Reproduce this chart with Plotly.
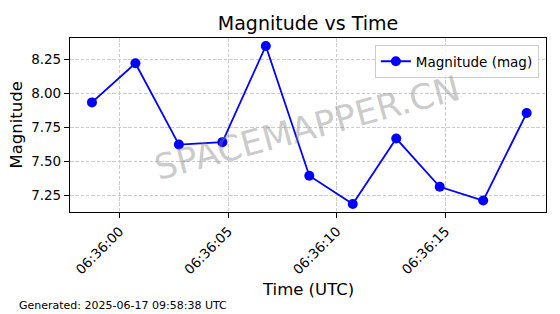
import plotly.graph_objects as go

times = ["2025-06-17 06:35:58.73", "2025-06-17 06:36:00.73", "2025-06-17 06:36:02.73",
         "2025-06-17 06:36:04.73", "2025-06-17 06:36:06.73", "2025-06-17 06:36:08.73",
         "2025-06-17 06:36:10.73", "2025-06-17 06:36:12.73", "2025-06-17 06:36:14.73",
         "2025-06-17 06:36:16.73", "2025-06-17 06:36:18.73"]
magnitudes = [7.934, 8.221, 7.625, 7.643, 8.348, 7.397, 7.189, 7.669, 7.316, 7.215, 7.856]
x_ticks = ["2025-06-17 06:36:00", "2025-06-17 06:36:05", "2025-06-17 06:36:10", "2025-06-17 06:36:15"]
x_tick_labels = ["06:36:00", "06:36:05", "06:36:10", "06:36:15"]
y_ticks = [7.25, 7.50, 7.75, 8.00, 8.25]
y_tick_labels = ["7.25", "7.50", "7.75", "8.00", "8.25"]

FONT = "DejaVu Sans"

fig = go.Figure()
fig.add_trace(go.Scatter(
    x=times, y=magnitudes, mode="lines+markers", name="Magnitude (mag)",
    line=dict(color="#0000ff", width=1.8),
    marker=dict(color="#0000ff", size=10),
))

fig.update_layout(
    width=560, height=314,
    margin=dict(l=70, r=14, t=38, b=102),
    paper_bgcolor="white", plot_bgcolor="white",
    font=dict(family=FONT, color="black", size=13.5),
    title=dict(text="Magnitude vs Time", x=0.5, xref="paper", y=(314 - 23) / 314,
               yanchor="middle", xanchor="center", font=dict(size=19, family=FONT)),
    showlegend=True,
    legend=dict(x=0.985, y=0.96, xanchor="right", yanchor="top",
                bgcolor="rgba(255,255,255,0.8)", bordercolor="#cccccc", borderwidth=1,
                font=dict(size=13.5, family=FONT)),
)

grid_dash = "3.5px,1.8px"
fig.update_xaxes(
    type="date",
    range=["2025-06-17 06:35:57.72", "2025-06-17 06:36:19.62"],
    tickvals=x_ticks, ticktext=x_tick_labels, tickangle=-45,
    ticks="outside", ticklen=5, tickcolor="black",
    showline=True, linecolor="black", linewidth=1.2, mirror=True,
    showgrid=True, gridcolor="#cccccc", griddash=grid_dash, gridwidth=1,
    zeroline=False,
)
fig.update_yaxes(
    range=[7.131, 8.406],
    tickvals=y_ticks, ticktext=y_tick_labels,
    ticks="outside", ticklen=5, tickcolor="black",
    showline=True, linecolor="black", linewidth=1.2, mirror=True,
    showgrid=True, gridcolor="#cccccc", griddash=grid_dash, gridwidth=1,
    zeroline=False,
)

fig.add_annotation(text="Time (UTC)", xref="paper", yref="paper", x=0.5, y=-(289 - 212) / 174,
                   xanchor="center", yanchor="middle", showarrow=False,
                   font=dict(size=16.5, family=FONT))
fig.add_annotation(text="Magnitude", xref="paper", yref="paper", x=(15.5 - 70) / 476, y=0.5,
                   xanchor="center", yanchor="middle", showarrow=False, textangle=-90,
                   font=dict(size=16.5, family=FONT))
fig.add_annotation(text="Generated: 2025-06-17 09:58:38 UTC", xref="paper", yref="paper",
                   x=(17 - 70) / 476, y=-(305 - 212) / 174, xanchor="left", yanchor="middle",
                   showarrow=False, font=dict(size=11, family=FONT))
fig.add_annotation(text="SPACEMAPPER.CN", xref="paper", yref="paper",
                   x=(307 - 70) / 476, y=(212 - 128) / 174, xanchor="center", yanchor="middle",
                   showarrow=False, textangle=-15,
                   font=dict(size=35, family=FONT, color="rgba(128,128,128,0.42)"))

fig.write_html("out.html")
